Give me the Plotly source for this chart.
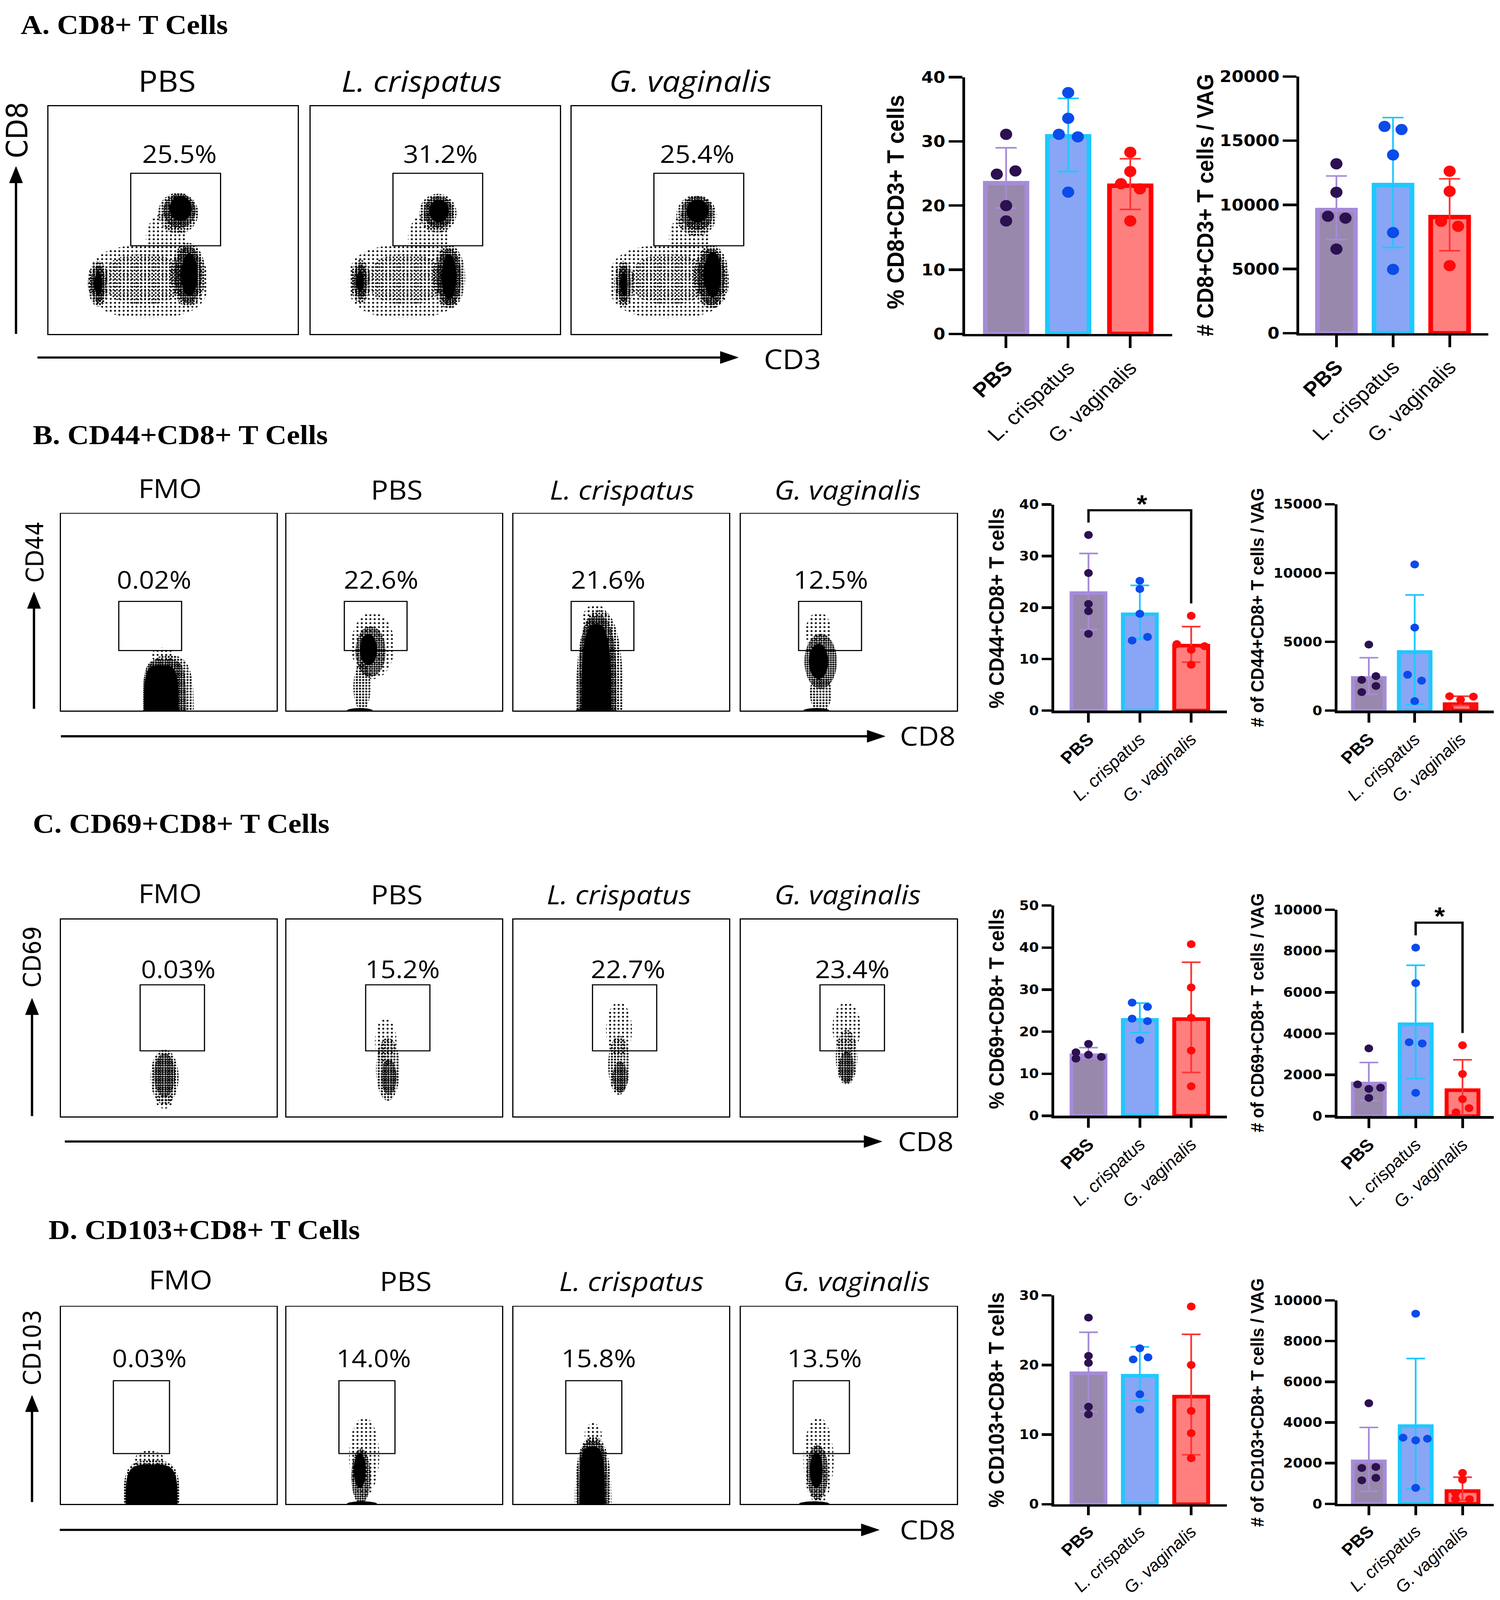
import numpy as np
import plotly.graph_objects as go

W, H = 3839, 4430

# ---------------- categories / tick labels ----------------
GROUPS = ["PBS", "L. crispatus", "G. vaginalis"]
TICKS_A = ["<b>PBS</b>", "L. crispatus", "G. vaginalis"]
TICKS_BCD = ["<b>PBS</b>", "<i>L. crispatus</i>", "<i>G. vaginalis</i>"]

# ---------------- bar chart data (mean, upper cap, lower cap, points) ----------------
A1_MEAN = [23.5, 30.8, 23.1]
A1_HI = [29.0, 36.7, 27.3]
A1_LO = [19.6, 25.3, 19.4]
A1_PTS = [[31.1, 24.9, 25.4, 20.0, 17.6],
          [37.6, 33.6, 31.1, 30.7, 22.1],
          [28.3, 25.3, 23.4, 22.6, 17.6]]

A2_MEAN = [9600, 11550, 9050]
A2_HI = [12250, 16800, 12030]
A2_LO = [7300, 6685, 6425]
A2_PTS = [[13200, 10980, 9115, 8965, 6555],
          [16115, 15870, 13890, 7840, 4970],
          [12620, 11055, 8720, 8330, 5265]]

B1_MEAN = [22.8, 18.7, 12.6]
B1_HI = [30.5, 24.3, 16.3]
B1_LO = [15.7, 13.9, 9.4]
B1_PTS = [[34.1, 26.7, 20.7, 19.3, 14.9],
          [25.2, 23.6, 18.8, 13.6, 14.3],
          [18.4, 12.9, 12.5, 11.8, 8.9]]

B2_MEAN = [2370, 4260, 470]
B2_HI = [3843, 8402, 1043]
B2_LO = [1192, 447, 372]
B2_PTS = [[4797, 2503, 2234, 1788, 1341],
          [10621, 6033, 2607, 2175, 685],
          [1043, 1013, 790, 149, 298]]

C1_MEAN = [14.4, 22.8, 23.0]
C1_HI = [16.2, 26.8, 36.5]
C1_LO = [13.6, 19.8, 10.3]
C1_PTS = [[17.1, 15.1, 14.5, 14.0, 13.6],
          [26.9, 25.9, 23.1, 22.5, 18.0],
          [40.8, 30.5, 23.3, 15.5, 7.0]]

C2_MEAN = [1580, 4450, 1260]
C2_HI = [2599, 7312, 2728]
C2_LO = [744, 1815, 0]
C2_PTS = [[3284, 1538, 1379, 1319, 883],
          [8165, 6448, 3581, 3522, 1131],
          [3433, 2044, 823, 387, 188]]

D1_MEAN = [18.8, 18.45, 15.45]
D1_HI = [24.7, 22.6, 24.4]
D1_LO = [13.3, 14.9, 7.1]
D1_PTS = [[26.8, 21.3, 20.3, 14.0, 12.9],
          [22.4, 20.8, 21.1, 15.8, 13.6],
          [28.4, 20.0, 13.4, 10.2, 6.6]]

D2_MEAN = [2090, 3820, 630]
D2_HI = [3756, 7140, 1309]
D2_LO = [614, 735, 181]
D2_PTS = [[4945, 1762, 1813, 1279, 1158],
          [9345, 3253, 3122, 3202, 785],
          [1521, 1188, 534, 232, 232]]

# significance brackets: (left drop end, bar height, right drop end)
B1_SIG = [36.5, 38.9, 20.8]
C2_SIG = [8760, 9375, 4028]

# ---------------- flow cytometry panels ----------------
FLOW_A_TITLES = ["PBS", "<i>L. crispatus</i>", "<i>G. vaginalis</i>"]
FLOW_BCD_TITLES = ["FMO", "PBS", "<i>L. crispatus</i>", "<i>G. vaginalis</i>"]
FLOW_A_PCT = ["25.5%", "31.2%", "25.4%"]
FLOW_B_PCT = ["0.02%", "22.6%", "21.6%", "12.5%"]
FLOW_C_PCT = ["0.03%", "15.2%", "22.7%", "23.4%"]
FLOW_D_PCT = ["0.03%", "14.0%", "15.8%", "13.5%"]

# gates [x0, x1, y0, y1] on a 0-100 display scale
GATE_A = [33, 69, 38.7, 70.5]
GATE_B = [26.8, 55.9, 30.5, 55.5]
GATE_C = [36.7, 66.5, 33.3, 66.8]
GATE_D = [24.3, 50.3, 25.5, 62.5]

# populations: (center x, center y, radius x, radius y, density, squareness)
FLOW_A_BLOBS = [
    [(40, 23, 24, 16, "sparse", 2.6), (38, 24, 16, 11, "sparse2", 2.4), (47, 42, 8, 11, "sparse", 2),
     (52, 53, 8, 9, "mid", 2), (52.5, 54, 6.5, 7.5, "dense", 2), (53, 55, 4.5, 5.5, "solid", 2),
     (20, 22, 4.2, 10, "mid", 2), (20, 22, 3, 8, "dense", 2), (20, 22, 1.6, 5, "solid", 2),
     (56, 26, 7, 14, "mid", 2), (56, 26, 5.5, 12.5, "dense", 2), (56.5, 26, 3.3, 9.5, "solid", 2)],
    [(38, 23, 23, 16, "sparse", 2.6), (38, 24, 15, 11, "sparse2", 2.4), (47, 42, 8, 11, "sparse", 2),
     (51, 53, 7.5, 8.5, "mid", 2), (51.3, 53.5, 6, 7, "dense", 2), (51.5, 54, 4, 5, "solid", 2),
     (20, 23, 4, 9.5, "mid", 2), (20, 23, 2.8, 7.5, "dense", 2), (19.8, 23, 1.5, 4.5, "solid", 2),
     (55.5, 25, 6.5, 14, "mid", 2), (55.5, 25, 5, 12.5, "dense", 2), (55.5, 25, 3, 10, "solid", 2)],
    [(39, 23, 24, 16, "sparse", 2.6), (39, 24, 15, 11, "sparse2", 2.4), (47, 42, 8, 11, "sparse", 2),
     (50, 52, 8, 9, "mid", 2), (50.3, 53, 6.5, 7.5, "dense", 2), (50.5, 54, 4.5, 5, "solid", 2),
     (21, 22, 4, 10, "mid", 2), (21, 22, 2.8, 8, "dense", 2), (21, 22, 1.5, 5, "solid", 2),
     (56, 25, 7, 14, "mid", 2), (56, 25, 5.5, 12.5, "dense", 2), (56.5, 26, 3.5, 10, "solid", 2)],
]
FLOW_B_BLOBS = [
    [(50, 0, 11.5, 28, "mid", 3), (48, 0, 10, 26, "dense", 4), (46.5, 0, 8, 23, "solid", 4),
     (47, 28, 5, 4, "sparse", 2)],
    [(40, 33, 10, 17, "sparse", 2), (39, 30, 7, 13, "dense", 2), (38, 31, 4, 8, "solid", 2),
     (35, 12, 4, 12, "mid", 2), (34, 0, 6, 1.3, "solid", 2)],
    [(40, 0, 11, 51, "mid", 2.5), (39, 0, 9, 48, "dense", 3), (38.5, 0, 7, 44, "solid", 3),
     (38, 46, 6, 8, "sparse", 2), (36, 0, 7, 1.3, "solid", 2)],
    [(36, 40, 6, 10, "sparse", 2), (37, 25, 7.5, 14, "dense", 2), (36, 25, 4.5, 9, "solid", 2),
     (37, 9, 5, 10, "mid", 2), (35, 0, 6, 1.3, "solid", 2)],
]
FLOW_C_BLOBS = [
    [(48, 20, 6.5, 14, "mid", 2), (48, 21, 5, 11, "dense", 2), (48, 8, 4, 4, "sparse", 2)],
    [(46, 38, 5, 12, "sparse", 2), (47, 24, 5.5, 16, "mid", 2), (47.5, 20, 3.5, 9, "dense", 2)],
    [(49, 44, 6, 14, "sparse", 2), (49, 26, 5, 15, "mid", 2), (49.5, 20, 3.5, 8, "dense", 2)],
    [(49, 45, 6.5, 13, "sparse", 2), (49, 30, 5, 14, "mid", 2), (49, 25, 3.5, 8, "dense", 2)],
]
FLOW_D_BLOBS = [
    [(42, 0, 13, 22, "mid", 3.5), (42, 0, 12, 20, "solid", 4), (41, 22, 7, 5, "sparse", 2)],
    [(36, 24, 7, 20, "sparse", 2), (34.5, 14, 4.5, 14, "dense", 2), (34, 17, 2.8, 9, "solid", 2),
     (35, 0, 7, 1.3, "solid", 2)],
    [(37, 0, 8.5, 34, "mid", 2.5), (36.8, 0, 7.3, 32, "dense", 3), (36.5, 0, 6, 29, "solid", 3.5),
     (37, 35, 4, 6, "sparse", 2)],
    [(36, 22, 7, 22, "sparse", 2), (35.5, 16, 5, 14, "dense", 2), (35, 17, 3, 9, "solid", 2),
     (34, 0, 7, 1.3, "solid", 2)],
]

# ---------------- styles ----------------
BAR_FILL = ["#9888AC", "#88A6F5", "#FF7F7F"]
BAR_EDGE = ["#A68BD8", "#1EC8FF", "#FF0000"]
ERR_COL = ["#A68BD8", "#1EC8FF", "#FF3535"]
DOT_COL = ["#2C1050", "#0A4BEA", "#FF0A0A"]

# horizontal scatter of dots (category units), layout only
A1_OFF = [[0, -0.15, 0.15, 0, 0], [0, 0, -0.15, 0.155, 0], [0, 0, -0.15, 0.155, 0]]
A2_OFF = [[0, 0, -0.15, 0.16, 0], [-0.15, 0.15, 0, 0, 0], [0, 0, -0.15, 0.15, 0]]
B1_OFF = [[0, 0, 0, 0, 0], [0, 0, 0, -0.15, 0.15], [0, -0.28, 0.26, 0, 0]]
B2_OFF = [[0, 0.155, -0.155, 0.155, -0.155], [0, 0, -0.155, 0.15, 0], [-0.24, 0.28, 0, -0.24, 0.28]]
C1_OFF = [[0, -0.245, 0, 0.25, -0.245], [-0.15, 0.15, -0.15, 0.15, 0], [0, 0, 0, 0, 0]]
C2_OFF = [[0, -0.24, 0.25, 0, 0], [0, 0, -0.14, 0.14, 0], [0, 0, 0, 0.14, -0.14]]
D1_OFF = [[0, 0, 0, 0, 0], [0, -0.13, 0.16, 0, 0], [0, 0, 0, 0, 0]]
D2_OFF = [[0, -0.15, 0.15, 0.15, -0.15], [0, -0.27, 0, 0.25, 0], [0, 0, -0.15, -0.15, 0.15]]

DENSITY = {
    "sparse": dict(size=11, solidity=0.17),
    "sparse2": dict(size=9, solidity=0.2),
    "mid": dict(size=8, solidity=0.35),
    "dense": dict(size=6, solidity=0.6),
}


def px(x):
    return x / W


def py(y):
    return 1 - y / H


fig = go.Figure()
layout = dict(width=W, height=H, margin=dict(l=0, r=0, t=0, b=0),
              paper_bgcolor="white", plot_bgcolor="white", showlegend=False)
annotations = []
shapes = []
axis_count = [0]


def new_axes(x0, x1, ytop, ybot, xrange, yrange):
    axis_count[0] += 1
    k = axis_count[0]
    s = "" if k == 1 else str(k)
    layout["xaxis" + s] = dict(domain=[px(x0), px(x1)], range=xrange, anchor="y" + s,
                               showgrid=False, zeroline=False, fixedrange=True)
    layout["yaxis" + s] = dict(domain=[py(ybot), py(ytop)], range=yrange, anchor="x" + s,
                               showgrid=False, zeroline=False, fixedrange=True)
    return "x" + s, "y" + s, s


def text(x, y, t, size, family="Open Sans", angle=0, xanchor="center", color="black"):
    annotations.append(dict(x=px(x), y=py(y), xref="paper", yref="paper", text=t, showarrow=False,
                            xanchor=xanchor, yanchor="middle", textangle=angle,
                            font=dict(family=family, size=size, color=color)))


def arrow(x0, y0, x1, y1, head=46, half=17, width=6):
    # line from tail (x0,y0) to tip (x1,y1), pixel coordinates
    dx, dy = x1 - x0, y1 - y0
    L = (dx * dx + dy * dy) ** 0.5
    ux, uy = dx / L, dy / L
    bx, by = x1 - ux * head, y1 - uy * head
    shapes.append(dict(type="line", xref="paper", yref="paper", x0=px(x0), y0=py(y0),
                       x1=px(bx + ux * 2), y1=py(by + uy * 2), line=dict(color="black", width=width)))
    p1 = (bx - uy * half, by + ux * half)
    p2 = (bx + uy * half, by - ux * half)
    path = "M {},{} L {},{} L {},{} Z".format(px(x1), py(y1), px(p1[0]), py(p1[1]), px(p2[0]), py(p2[1]))
    shapes.append(dict(type="path", xref="paper", yref="paper", path=path,
                       fillcolor="black", line=dict(color="black", width=1)))


def blob_outline(cx, cy, rx, ry, n):
    t = np.linspace(0, 2 * np.pi, 97)
    c, s = np.cos(t), np.sin(t)
    x = cx + rx * np.sign(c) * np.abs(c) ** (2.0 / n)
    y = cy + ry * np.sign(s) * np.abs(s) ** (2.0 / n)
    return x, y


def add_flow(x0, x1, ytop, ybot, blobs, gate):
    xa, ya, s = new_axes(x0, x1, ytop, ybot, [0, 100], [0, 100])
    for key in ("xaxis", "yaxis"):
        layout[key + s].update(showline=True, mirror=True, linewidth=3, linecolor="black",
                               showticklabels=False, ticks="")
    for (cx, cy, rx, ry, dens, n) in blobs:
        bx, by = blob_outline(cx, cy, rx, ry, n)
        tr = dict(x=bx, y=by, mode="lines", fill="toself", line=dict(width=0),
                  hoverinfo="skip", xaxis=xa, yaxis=ya)
        if dens == "solid":
            tr["fillcolor"] = "black"
        else:
            tr["fillcolor"] = "rgba(0,0,0,0)"
            tr["fillpattern"] = dict(shape=".", fgcolor="black", bgcolor="rgba(0,0,0,0)",
                                     fillmode="replace", **DENSITY[dens])
        fig.add_trace(go.Scatter(**tr))
    shapes.append(dict(type="rect", xref=xa, yref=ya, x0=gate[0], x1=gate[1], y0=gate[2], y1=gate[3],
                       line=dict(color="black", width=3)))


def add_bar_chart(spec):
    L, c0, s, R = spec["L"], spec["c0"], spec["s"], spec["R"]
    xr = [(L - c0) / s, (R - c0) / s]
    xa, ya, k = new_axes(L, R, spec["ytop"], spec["y0"], xr, [0, spec["ymax"]])
    lw = 7
    layout["xaxis" + k].update(showline=True, linewidth=lw, linecolor="black", ticks="outside",
                               ticklen=spec["xtl"], tickwidth=lw, tickcolor="black",
                               tickmode="array", tickvals=[0, 1, 2], ticktext=spec["ticks"],
                               tickangle=-45,
                               tickfont=dict(family="Liberation Sans", size=spec["xfont"], color="black"))
    layout["yaxis" + k].update(showline=True, linewidth=lw, linecolor="black", ticks="outside",
                               ticklen=spec["ytl"], tickwidth=lw, tickcolor="black",
                               tickmode="linear", tick0=0, dtick=spec["dtick"], tickformat="d",
                               tickfont=dict(family="DejaVu Sans", size=spec["yfont"], color="black",
                                             weight="bold"))
    mean, hi, lo, pts, off = spec["mean"], spec["hi"], spec["lo"], spec["pts"], spec["off"]
    fig.add_trace(go.Bar(x=[0, 1, 2], y=mean, width=spec["bw"],
                         marker=dict(color=BAR_FILL, line=dict(color=BAR_EDGE, width=spec["blw"])),
                         xaxis=xa, yaxis=ya, hoverinfo="skip"))
    for g in range(3):
        fig.add_trace(go.Scatter(x=[g], y=[mean[g]], mode="markers", marker=dict(size=1, opacity=0),
                                 error_y=dict(type="data", symmetric=False,
                                              array=[hi[g] - mean[g]], arrayminus=[mean[g] - lo[g]],
                                              color=ERR_COL[g], thickness=4.5, width=spec["cap"]),
                                 xaxis=xa, yaxis=ya, hoverinfo="skip"))
    xs, ys, cs = [], [], []
    for g in range(3):
        for v, o in zip(pts[g], off[g]):
            xs.append(g + o)
            ys.append(v)
            cs.append(DOT_COL[g])
    fig.add_trace(go.Scatter(x=xs, y=ys, mode="markers", cliponaxis=False,
                             marker=dict(size=spec["dot"], color=cs, line=dict(width=0)),
                             xaxis=xa, yaxis=ya, hoverinfo="skip"))
    return xa, ya


# ---------------- panel titles ----------------
text(48, 42, "<b>A. CD8+ T Cells</b>", 76, "Liberation Serif", xanchor="left")
text(79, 1192, "<b>B. CD44+CD8+ T Cells</b>", 76, "Liberation Serif", xanchor="left")
text(79, 2280, "<b>C. CD69+CD8+ T Cells</b>", 76, "Liberation Serif", xanchor="left")
text(119, 3418, "<b>D. CD103+CD8+ T Cells</b>", 76, "Liberation Serif", xanchor="left")

# ---------------- flow plots ----------------
A_BOX_X = [(121, 760), (793, 1431), (1461, 2100)]
A_BOX_Y = (271, 909)
A_TITLE_XY = [(425, 198), (1077, 198), (1765, 198)]
A_PCT_XY = [(457, 403), (1125, 403), (1783, 403)]
for i in range(3):
    add_flow(A_BOX_X[i][0], A_BOX_X[i][1], A_BOX_Y[0], A_BOX_Y[1], FLOW_A_BLOBS[i], GATE_A)
    text(A_TITLE_XY[i][0], A_TITLE_XY[i][1], FLOW_A_TITLES[i], 82)
    text(A_PCT_XY[i][0], A_PCT_XY[i][1], FLOW_A_PCT[i], 68)

BCD_BOX_X = [(153, 706), (731, 1283), (1312, 1864), (1894, 2448)]
PANELS = [
    dict(boxy=(1413, 1964), blobs=FLOW_B_BLOBS, gate=GATE_B, pct=FLOW_B_PCT,
         title_xy=[(432, 1340), (1013, 1344), (1590, 1344), (2168, 1344)],
         pct_xy=[(392, 1596), (973, 1596), (1555, 1596), (2125, 1596)]),
    dict(boxy=(2549, 3101), blobs=FLOW_C_BLOBS, gate=GATE_C, pct=FLOW_C_PCT,
         title_xy=[(432, 2475), (1013, 2478), (1582, 2478), (2168, 2478)],
         pct_xy=[(454, 2686), (1028, 2686), (1606, 2686), (2180, 2686)]),
    dict(boxy=(3634, 4186), blobs=FLOW_D_BLOBS, gate=GATE_D, pct=FLOW_D_PCT,
         title_xy=[(459, 3556), (1036, 3560), (1614, 3560), (2191, 3560)],
         pct_xy=[(380, 3776), (954, 3776), (1531, 3776), (2109, 3776)]),
]
for p in PANELS:
    for i in range(4):
        add_flow(BCD_BOX_X[i][0], BCD_BOX_X[i][1], p["boxy"][0], p["boxy"][1], p["blobs"][i], p["gate"])
        text(p["title_xy"][i][0], p["title_xy"][i][1], FLOW_BCD_TITLES[i], 74)
        text(p["pct_xy"][i][0], p["pct_xy"][i][1], p["pct"][i], 68)

# axis arrows and labels of flow plots
arrow(38, 909, 38, 440)
arrow(93, 975, 1888, 975)
text(41, 338, "CD8", 74, "DejaVu Sans", angle=-90)
text(2027, 978, "CD3", 76)

arrow(84, 1959, 84, 1632)
arrow(153, 2036, 2264, 2036)
text(87, 1520, "CD44", 62, "DejaVu Sans", angle=-90)
text(2373, 2034, "CD8", 74)

arrow(79, 3100, 79, 2770)
arrow(163, 3171, 2256, 3171)
text(80, 2654, "CD69", 62, "DejaVu Sans", angle=-90)
text(2368, 3169, "CD8", 74)

arrow(79, 4181, 79, 3882)
arrow(150, 4259, 2249, 4259)
text(80, 3748, "CD103", 62, "DejaVu Sans", angle=-90)
text(2373, 4257, "CD8", 74)

# ---------------- bar charts ----------------
common_a = dict(ticks=TICKS_A, xfont=56, yfont=44, xtl=32, ytl=35, bw=0.67, blw=12, cap=27, dot=31)
common_b = dict(ticks=TICKS_BCD, xfont=47, yfont=36, xtl=26, ytl=25, blw=10, cap=24, dot=22)
common_d = dict(common_b, xfont=46, xtl=24)

add_bar_chart(dict(L=2469, c0=2574, s=159, R=2999, y0=909, ytop=190, ymax=40, dtick=10,
                   mean=A1_MEAN, hi=A1_HI, lo=A1_LO, pts=A1_PTS, off=A1_OFF, **common_a))
add_bar_chart(dict(L=3325, c0=3420, s=145, R=3809, y0=907, ytop=188, ymax=20000, dtick=5000,
                   mean=A2_MEAN, hi=A2_HI, lo=A2_LO, pts=A2_PTS, off=A2_OFF, **common_a))
xb1, yb1 = add_bar_chart(dict(L=2697, c0=2785, s=131.5, R=3139, y0=1964, ytop=1387, ymax=40, dtick=10,
                              bw=0.66, mean=B1_MEAN, hi=B1_HI, lo=B1_LO, pts=B1_PTS, off=B1_OFF, **common_b))
add_bar_chart(dict(L=3423, c0=3503, s=117.5, R=3823, y0=1964, ytop=1386, ymax=15000, dtick=5000,
                   bw=0.69, mean=B2_MEAN, hi=B2_HI, lo=B2_LO, pts=B2_PTS, off=B2_OFF, **common_b))
add_bar_chart(dict(L=2697, c0=2785, s=131.5, R=3139, y0=3099, ytop=2510, ymax=50, dtick=10,
                   bw=0.66, mean=C1_MEAN, hi=C1_HI, lo=C1_LO, pts=C1_PTS, off=C1_OFF, **common_b))
xc2, yc2 = add_bar_chart(dict(L=3423, c0=3503, s=120, R=3823, y0=3100, ytop=2522, ymax=10000, dtick=2000,
                              bw=0.68, mean=C2_MEAN, hi=C2_HI, lo=C2_LO, pts=C2_PTS, off=C2_OFF, **common_b))
add_bar_chart(dict(L=2697, c0=2785, s=131.5, R=3139, y0=4187, ytop=3602, ymax=30, dtick=10,
                   bw=0.66, mean=D1_MEAN, hi=D1_HI, lo=D1_LO, pts=D1_PTS, off=D1_OFF, **common_d))
add_bar_chart(dict(L=3423, c0=3503, s=120, R=3823, y0=4186, ytop=3616, ymax=10000, dtick=2000,
                   bw=0.68, mean=D2_MEAN, hi=D2_HI, lo=D2_LO, pts=D2_PTS, off=D2_OFF, **common_d))

# significance brackets
shapes.append(dict(type="path", xref=xb1, yref=yb1, line=dict(color="black", width=6),
                   path="M 0,{} L 0,{} L 2,{} L 2,{}".format(B1_SIG[0], B1_SIG[1], B1_SIG[1], B1_SIG[2])))
shapes.append(dict(type="path", xref=xc2, yref=yc2, line=dict(color="black", width=6),
                   path="M 1,{} L 1,{} L 2,{} L 2,{}".format(C2_SIG[0], C2_SIG[1], C2_SIG[1], C2_SIG[2])))
text(2922, 1386, "<b>*</b>", 70, "Liberation Sans")
text(3685, 2540, "<b>*</b>", 70, "Liberation Sans")

# y-axis titles
text(2291, 540, "<b>% CD8+CD3+ T cells</b>", 61, "Liberation Sans", angle=-90)
text(3084, 548, "<b># CD8+CD3+ T cells / VAG</b>", 59, "Liberation Sans", angle=-90)
text(2549, 1678, "<b>% CD44+CD8+ T cells</b>", 54, "Liberation Sans", angle=-90)
text(3217, 1675, "<b># of CD44+CD8+ T cells / VAG</b>", 47, "Liberation Sans", angle=-90)
text(2549, 2800, "<b>% CD69+CD8+ T cells</b>", 54, "Liberation Sans", angle=-90)
text(3217, 2810, "<b># of CD69+CD8+ T cells / VAG</b>", 47, "Liberation Sans", angle=-90)
text(2549, 3895, "<b>% CD103+CD8+ T cells</b>", 55, "Liberation Sans", angle=-90)
text(3217, 3902, "<b># of CD103+CD8+ T cells / VAG</b>", 47, "Liberation Sans", angle=-90)

layout["annotations"] = annotations
layout["shapes"] = shapes
fig.update_layout(**layout)

# the whole figure is kept inside the visible window (scaled down only if the window is smaller)
FIT_SCRIPT = """
(function () {
  var gd = document.getElementById('{plot_id}');
  var de = document.documentElement, b = document.body;
  de.style.margin = '0'; de.style.padding = '0'; de.style.overflow = 'hidden';
  b.style.margin = '0'; b.style.padding = '0'; b.style.overflow = 'hidden';
  var vw = window.innerWidth, vh = window.innerHeight;
  var sx = Math.min(1, vw / %d), sy = Math.min(1, vh / %d);
  if (sx < 0.999 || sy < 0.999) {
    var inner = gd.firstElementChild || gd;
    gd.style.width = vw + 'px';
    gd.style.height = vh + 'px';
    gd.style.overflow = 'hidden';
    inner.style.transformOrigin = '0 0';
    inner.style.transform = 'scale(' + sx + ',' + sy + ')';
  }
})();
""" % (W, H)

fig.write_html("out.html", config={"displayModeBar": False, "responsive": False},
               post_script=FIT_SCRIPT)
